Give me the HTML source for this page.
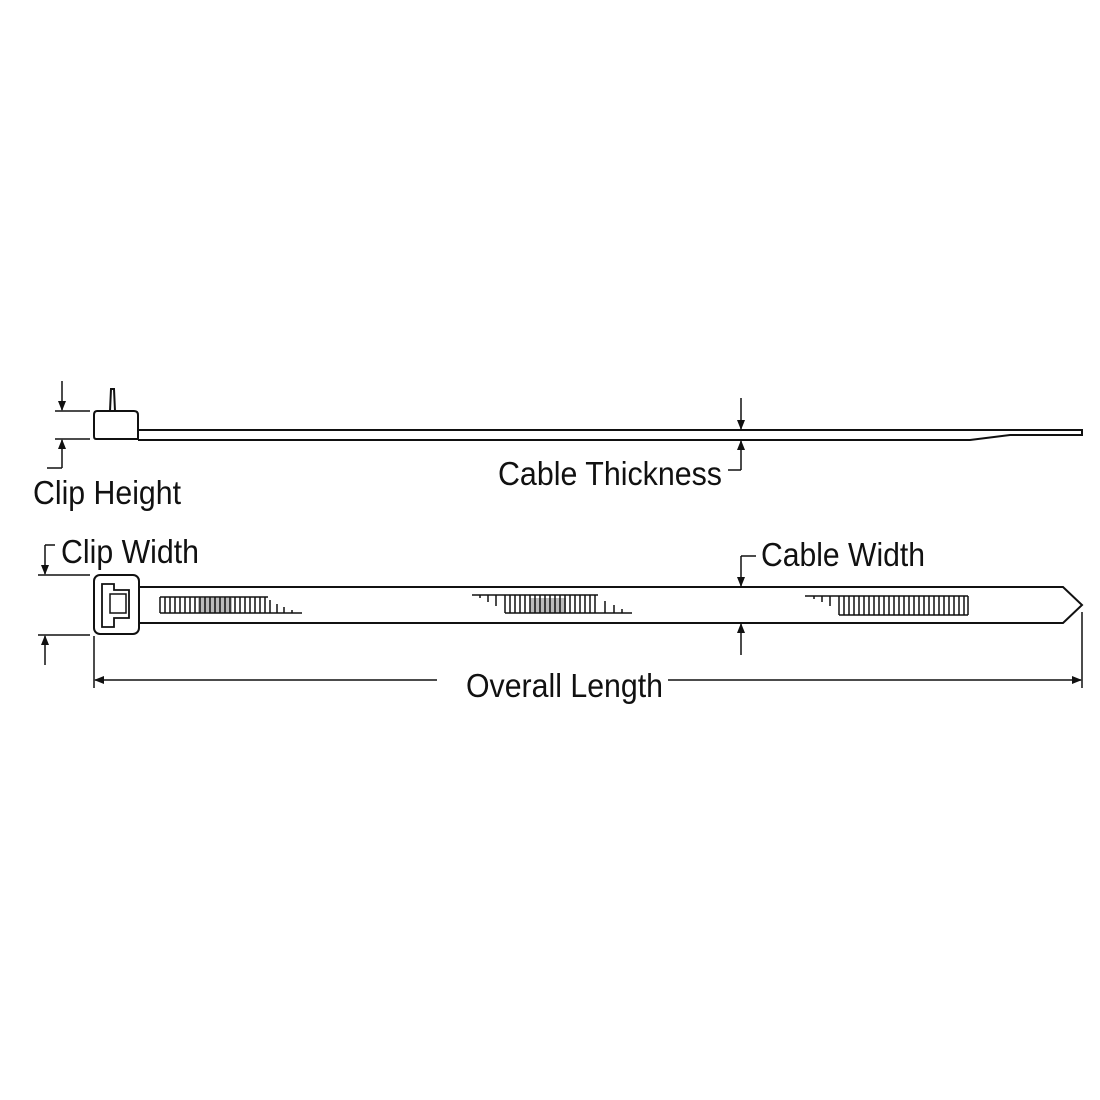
<!DOCTYPE html>
<html><head><meta charset="utf-8"><style>
html,body{margin:0;padding:0;background:#fff;}
svg{display:block}
text{font-family:"Liberation Sans",sans-serif;font-size:33px;fill:#111}
</style></head><body>
<svg width="1100" height="1100" viewBox="0 0 1100 1100" xmlns="http://www.w3.org/2000/svg">
<defs>
<marker id="a" markerWidth="10" markerHeight="12" refX="9" refY="6" orient="auto" markerUnits="userSpaceOnUse">
<path d="M0,2 L10,6 L0,10 Z" fill="#111"/></marker>
</defs>
<g stroke="#111" stroke-width="2" fill="none">
<!-- side view -->
<path d="M110,411 L111,389 L114,389 L115,411"/>
<path d="M97,411 L134,411 Q138,411 138,415 L138,439 L96,439 Q94,439 94,436 L94,415 Q94,411 97,411 Z" fill="#fff"/>
<path d="M138,430 L1082,430 L1082,435 L1010,435 L970,440 L138,440"/>
<!-- clip height -->
<line x1="55" y1="411" x2="90" y2="411" stroke-width="1.5"/>
<line x1="55" y1="439" x2="90" y2="439" stroke-width="1.5"/>
<line x1="62" y1="381" x2="62" y2="410" marker-end="url(#a)" stroke-width="1.5"/>
<line x1="62" y1="468" x2="62" y2="440" marker-end="url(#a)" stroke-width="1.5"/>
<line x1="62" y1="468" x2="47" y2="468" stroke-width="1.5"/>
<!-- thickness -->
<line x1="741" y1="398" x2="741" y2="429" marker-end="url(#a)" stroke-width="1.5"/>
<line x1="741" y1="470" x2="741" y2="441" marker-end="url(#a)" stroke-width="1.5"/>
<line x1="741" y1="470" x2="728" y2="470" stroke-width="1.5"/>
<!-- top view -->
<path d="M139,587 L1063,587 L1082,605 L1063,623 L139,623"/>
<rect x="94" y="575" width="45" height="59" rx="6" fill="#fff"/>
<path d="M102,584 L114,584 L114,590 L129,590 L129,618 L114,618 L114,627 L102,627 Z" stroke-width="1.8"/>
<rect x="110" y="594" width="16" height="19" stroke-width="1.5"/>
<!-- clip width -->
<line x1="38" y1="575" x2="90" y2="575" stroke-width="1.5"/>
<line x1="38" y1="635" x2="90" y2="635" stroke-width="1.5"/>
<line x1="45" y1="545" x2="45" y2="574" marker-end="url(#a)" stroke-width="1.5"/>
<line x1="45" y1="545" x2="55" y2="545" stroke-width="1.5"/>
<line x1="45" y1="665" x2="45" y2="636" marker-end="url(#a)" stroke-width="1.5"/>
<!-- cable width -->
<line x1="741" y1="556" x2="741" y2="586" marker-end="url(#a)" stroke-width="1.5"/>
<line x1="741" y1="556" x2="756" y2="556" stroke-width="1.5"/>
<line x1="741" y1="655" x2="741" y2="624" marker-end="url(#a)" stroke-width="1.5"/>
<!-- overall -->
<line x1="94" y1="636" x2="94" y2="688" stroke-width="1.5"/>
<line x1="1082" y1="612" x2="1082" y2="688" stroke-width="1.5"/>
<line x1="437" y1="680" x2="95" y2="680" marker-end="url(#a)" stroke-width="1.5"/>
<line x1="668" y1="680" x2="1081" y2="680" marker-end="url(#a)" stroke-width="1.5"/>
</g>
<!-- ratchets -->
<g fill="#bbb" stroke="none">
<rect x="198" y="598" width="34" height="15"/>
<rect x="530" y="598" width="36" height="15"/>
</g>
<g stroke="#111" stroke-width="1.5" fill="none" id="r">
<path d="M160,597 L268,597 M160,613 L302,613"/>
<path d="M160,597V613M165,597V613M170,597V613M175,597V613M180,597V613M185,597V613M190,597V613M195,597V613M200,597V613M205,597V613M210,597V613M215,597V613M220,597V613M225,597V613M230,597V613M235,597V613M240,597V613M245,597V613M250,597V613M255,597V613M260,597V613M265,597V613M270,600V613M277,604V613M284,607V613M292,610V613"/>
<path d="M472,595 L598,595 M505,613 L632,613"/>
<path d="M480,595V598M488,595V602M496,595V606M505,595V613M510,595V613M515,595V613M520,595V613M525,595V613M530,595V613M535,595V613M540,595V613M545,595V613M550,595V613M555,595V613M560,595V613M565,595V613M570,595V613M575,595V613M580,595V613M585,595V613M590,595V613M595,595V613M605,601V613M614,605V613M622,609V613"/>
<path d="M805,596 L968,596 M839,615 L968,615 M968,596V615"/>
<path d="M814,596V599M822,596V602M830,596V606M839,596V615M844,596V615M849,596V615M854,596V615M859,596V615M864,596V615M869,596V615M874,596V615M879,596V615M884,596V615M889,596V615M894,596V615M899,596V615M904,596V615M909,596V615M914,596V615M919,596V615M924,596V615M929,596V615M934,596V615M939,596V615M944,596V615M949,596V615M954,596V615M959,596V615M964,596V615"/>
</g>
<text x="33" y="504" textLength="148" lengthAdjust="spacingAndGlyphs">Clip Height</text>
<text x="498" y="485" textLength="224" lengthAdjust="spacingAndGlyphs">Cable Thickness</text>
<text x="61" y="563" textLength="138" lengthAdjust="spacingAndGlyphs">Clip Width</text>
<text x="761" y="566" textLength="164" lengthAdjust="spacingAndGlyphs">Cable Width</text>
<text x="466" y="697" textLength="197" lengthAdjust="spacingAndGlyphs">Overall Length</text>
</svg>
</body></html>
